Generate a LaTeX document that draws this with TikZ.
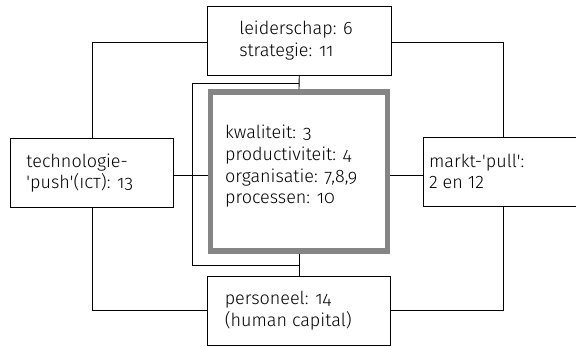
\documentclass[tikz,border=0pt]{standalone}
\usepackage{fontspec}
\setmainfont{Fira Sans Light}[Numbers=OldStyle]
\usetikzlibrary{calc}
\tikzset{
  box/.style={draw, line width=0.9pt, rectangle, inner sep=0pt},
  core/.style={draw=black!48, line width=5.5pt, rectangle, inner sep=0pt},
  boxtext/.style={anchor=west, align=left, inner sep=0pt, font=\fontsize{18}{21.7}\selectfont},
  wire/.style={line width=0.9pt}
}
\begin{document}
\begin{tikzpicture}[x=1pt,y=-1pt]
				\clip (0,0) rectangle (576,346);
				
				\node[box, minimum width=183.5, minimum height=69.5] (lead) at (299.25,40.75) {};
				\node[boxtext] (leadtext) at ([xshift=32]lead.west) {leiderschap: 6\\strategie: 11};
				
				\node[core, minimum width=176.6, minimum height=159] (core) at (299,171.5) {};
				\node[boxtext] (coretext) at ([xshift=17, yshift=5]core.west) {kwaliteit: 3\\productiviteit: 4\\organisatie: 7,8,9\\processen: 10};
				
				\node[box, minimum width=163, minimum height=69] (tech) at (91.5,173) {};
				\node[boxtext] (techtext) at ([xshift=16.7]tech.west) {technologie-\\\textquotesingle push\textquotesingle(\textsc{ict}): 13};
				
				\node[box, minimum width=160, minimum height=69] (market) at (503,171.5) {};
				\node[boxtext] (markettext) at ([xshift=6.3]market.west) {markt-\textquotesingle pull\textquotesingle:\\{\addfontfeatures{Numbers=Lining}2 en 12}};
				
				\node[box, minimum width=183, minimum height=68.8] (staff) at (299,310.9) {};
				\node[boxtext] (stafftext) at ([xshift=17.5]staff.west) {personeel: 14\\(human capital)};
				
				\coordinate (loopL) at (92.7,0);
				\coordinate (loopR) at (503.3,0);
				\draw[wire] (lead.west |- 0,42) -| (loopL |- tech.north);
				\draw[wire] (tech.south -| loopL) |- (staff.west |- 0,310);
				\draw[wire] (lead.east |- 0,42) -| (loopR |- market.north);
				\draw[wire] (market.south -| loopR) |- (staff.east |- 0,310);
				
				\draw[wire] (tech.east |- 0,175.7) -- (core.west |- 0,175.7);
				\draw[wire] (core.east |- 0,175.7) -- (market.west |- 0,175.7);
				
				\coordinate (brkT) at (299.3,83);
				\coordinate (brkB) at (299.3,265.7);
				\draw[wire] (lead.south) -- (core.north);
				\draw[wire] (core.south) -- (staff.north);
				\draw[wire] (brkT) -- (192.3,83) -- (192.3,265.7) -- (brkB);
			\end{tikzpicture}
\end{document}
